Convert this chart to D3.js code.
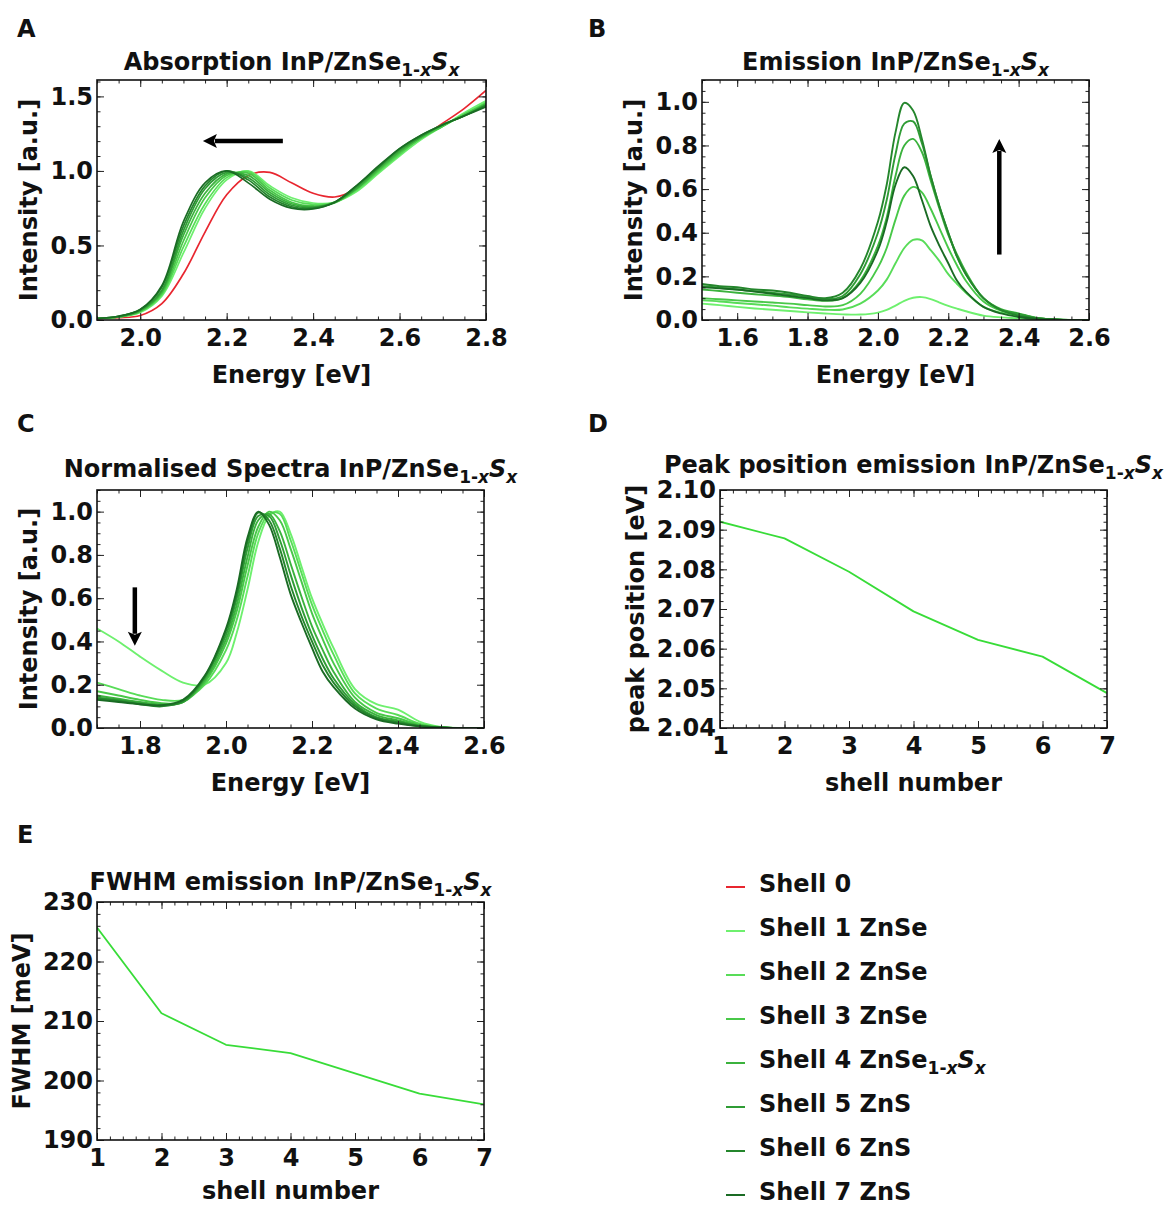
<!DOCTYPE html>
<html lang="en">
<head>
<meta charset="UTF-8" />
<title>InP/ZnSe1-xSx shell series</title>
<script src="https://d3js.org/d3.v7.min.js"></script>
<style>
  body { margin: 0; background: #fff; }
  svg text { font-family: "DejaVu Sans", Verdana, sans-serif; font-weight: bold; fill: #111; }
  .tick line { stroke: #222; }
</style>
</head>
<body>
<script>
// legend / series
const shellNames = ["Shell 0", "Shell 1 ZnSe", "Shell 2 ZnSe", "Shell 3 ZnSe", "Shell 4 ZnSe", "Shell 5 ZnS", "Shell 6 ZnS", "Shell 7 ZnS"];
const shellColors = ["#e8262f", "#6ef06e", "#58dc58", "#48c848", "#3bb23d", "#2f9c35", "#24862c", "#1a6b24"];

// A: absorption, energy grid (eV) and one array per shell
const absE = [1.90, 1.95, 2.00, 2.05, 2.10, 2.15, 2.20, 2.25, 2.30, 2.35, 2.40, 2.45, 2.50, 2.55, 2.60, 2.65, 2.70, 2.75, 2.80];
const abs0 = [0.01, 0.015, 0.03, 0.11, 0.31, 0.59, 0.84, 0.97, 0.99, 0.92, 0.85, 0.825, 0.88, 1.00, 1.13, 1.22, 1.32, 1.42, 1.54];
const abs1 = [0.01, 0.02, 0.05, 0.16, 0.45, 0.75, 0.94, 1.00, 0.90, 0.82, 0.785, 0.79, 0.86, 0.98, 1.10, 1.21, 1.30, 1.39, 1.47];
const abs2 = [0.01, 0.02, 0.055, 0.17, 0.49, 0.78, 0.955, 0.995, 0.885, 0.805, 0.775, 0.79, 0.87, 0.99, 1.11, 1.22, 1.30, 1.38, 1.46];
const abs3 = [0.01, 0.02, 0.06, 0.18, 0.53, 0.82, 0.97, 0.985, 0.87, 0.79, 0.765, 0.785, 0.88, 1.00, 1.12, 1.22, 1.30, 1.38, 1.45];
const abs4 = [0.01, 0.02, 0.06, 0.19, 0.57, 0.85, 0.98, 0.97, 0.855, 0.78, 0.76, 0.79, 0.88, 1.01, 1.13, 1.23, 1.31, 1.37, 1.45];
const abs5 = [0.01, 0.025, 0.065, 0.20, 0.60, 0.88, 0.99, 0.955, 0.84, 0.77, 0.755, 0.79, 0.89, 1.02, 1.14, 1.23, 1.31, 1.37, 1.44];
const abs6 = [0.01, 0.025, 0.07, 0.22, 0.63, 0.90, 1.00, 0.94, 0.825, 0.76, 0.75, 0.79, 0.90, 1.02, 1.15, 1.24, 1.31, 1.37, 1.44];
const abs7 = [0.01, 0.025, 0.07, 0.23, 0.66, 0.92, 1.00, 0.92, 0.81, 0.75, 0.745, 0.79, 0.90, 1.03, 1.15, 1.24, 1.31, 1.37, 1.43];

// B: emission (shells 1-7)
const emiE = [1.50, 1.55, 1.60, 1.65, 1.70, 1.75, 1.80, 1.85, 1.90, 1.95, 2.00, 2.025, 2.05, 2.075, 2.10, 2.125, 2.15, 2.175, 2.20, 2.225, 2.25, 2.30, 2.35, 2.40, 2.45, 2.50, 2.55, 2.60];
const emi1 = [0.075, 0.068, 0.06, 0.053, 0.047, 0.041, 0.035, 0.03, 0.026, 0.025, 0.034, 0.046, 0.066, 0.088, 0.102, 0.105, 0.096, 0.08, 0.065, 0.052, 0.04, 0.02, 0.012, 0.008, 0.003, 0.001, 0, 0];
const emi2 = [0.09, 0.085, 0.078, 0.072, 0.066, 0.058, 0.052, 0.047, 0.048, 0.075, 0.135, 0.185, 0.26, 0.33, 0.367, 0.365, 0.32, 0.27, 0.21, 0.165, 0.125, 0.06, 0.033, 0.022, 0.007, 0.002, 0, 0];
const emi3 = [0.10, 0.095, 0.09, 0.085, 0.08, 0.075, 0.068, 0.062, 0.068, 0.12, 0.24, 0.33, 0.46, 0.57, 0.61, 0.585, 0.51, 0.42, 0.33, 0.25, 0.18, 0.085, 0.043, 0.027, 0.009, 0.002, 0, 0];
const emi4 = [0.14, 0.133, 0.125, 0.118, 0.112, 0.105, 0.095, 0.088, 0.10, 0.18, 0.34, 0.47, 0.66, 0.80, 0.83, 0.77, 0.64, 0.51, 0.39, 0.30, 0.22, 0.10, 0.05, 0.03, 0.01, 0.003, 0, 0];
const emi5 = [0.155, 0.148, 0.14, 0.132, 0.125, 0.117, 0.105, 0.095, 0.11, 0.21, 0.40, 0.55, 0.76, 0.90, 0.91, 0.81, 0.66, 0.52, 0.40, 0.29, 0.21, 0.10, 0.046, 0.028, 0.009, 0.003, 0, 0];
const emi6 = [0.165, 0.155, 0.15, 0.14, 0.135, 0.125, 0.11, 0.10, 0.125, 0.235, 0.45, 0.62, 0.86, 0.995, 0.96, 0.83, 0.66, 0.52, 0.40, 0.29, 0.21, 0.10, 0.045, 0.02, 0.008, 0.003, 0, 0];
const emi7 = [0.15, 0.145, 0.14, 0.13, 0.12, 0.11, 0.10, 0.09, 0.10, 0.17, 0.32, 0.45, 0.62, 0.70, 0.66, 0.55, 0.43, 0.34, 0.26, 0.18, 0.13, 0.06, 0.03, 0.014, 0.005, 0.002, 0, 0];

// C: normalised emission (shells 1-7)
const normE = [1.70, 1.75, 1.80, 1.85, 1.90, 1.95, 2.00, 2.025, 2.05, 2.075, 2.10, 2.125, 2.15, 2.175, 2.20, 2.225, 2.25, 2.30, 2.35, 2.40, 2.45, 2.50, 2.55, 2.60];
const norm1 = [0.46, 0.40, 0.33, 0.265, 0.21, 0.20, 0.30, 0.44, 0.64, 0.86, 0.98, 1.00, 0.90, 0.75, 0.60, 0.48, 0.37, 0.18, 0.11, 0.085, 0.03, 0.005, 0, 0];
const norm2 = [0.21, 0.18, 0.15, 0.13, 0.13, 0.20, 0.36, 0.50, 0.70, 0.90, 0.99, 0.99, 0.87, 0.72, 0.57, 0.45, 0.34, 0.16, 0.09, 0.06, 0.02, 0.004, 0, 0];
const norm3 = [0.17, 0.15, 0.13, 0.115, 0.12, 0.21, 0.39, 0.54, 0.75, 0.93, 1.00, 0.96, 0.83, 0.68, 0.53, 0.41, 0.30, 0.14, 0.07, 0.045, 0.015, 0.003, 0, 0];
const norm4 = [0.15, 0.135, 0.12, 0.11, 0.12, 0.22, 0.41, 0.57, 0.79, 0.96, 0.99, 0.91, 0.76, 0.61, 0.47, 0.36, 0.26, 0.12, 0.06, 0.035, 0.012, 0.003, 0, 0];
const norm5 = [0.14, 0.13, 0.115, 0.105, 0.12, 0.23, 0.43, 0.60, 0.83, 0.98, 0.98, 0.87, 0.71, 0.56, 0.43, 0.32, 0.23, 0.11, 0.05, 0.03, 0.01, 0.003, 0, 0];
const norm6 = [0.135, 0.125, 0.11, 0.10, 0.125, 0.235, 0.45, 0.62, 0.86, 0.995, 0.96, 0.83, 0.66, 0.52, 0.40, 0.29, 0.21, 0.10, 0.045, 0.025, 0.008, 0.003, 0, 0];
const norm7 = [0.13, 0.12, 0.11, 0.105, 0.13, 0.24, 0.46, 0.64, 0.88, 1.00, 0.94, 0.79, 0.62, 0.49, 0.37, 0.26, 0.19, 0.09, 0.04, 0.02, 0.008, 0.003, 0, 0];

// D, E: per-shell summary
const shellNo = [1, 2, 3, 4, 5, 6, 7];
const peakPos = [2.092, 2.0878, 2.0794, 2.0694, 2.0622, 2.058, 2.0488];
const fwhm = [225.7, 211.3, 206.0, 204.6, 201.2, 197.8, 196.0];

// arrows, in data units
const arrowA = [[2.33, 1.2], [2.145, 1.2]];
const arrowB = [[2.345, 0.30], [2.345, 0.83]];
const arrowC = [[1.788, 0.65], [1.788, 0.38]];

const subSx = [{ t: "1-", sub: 1 }, { t: "x", sub: 1, it: 1 }, { t: "S", it: 1 }, { t: "x", sub: 1, it: 1 }];

const FS = 24;
const svg = d3.select("body").append("svg").attr("width", 1174).attr("height", 1205);
const defs = svg.append("defs");
let clipId = 0;

function richText(sel, parts) {
    let shift = 0;
    parts.forEach((p) => {
        const ts = sel.append("tspan").text(p.t);
        const target = p.sub ? 6 : 0;
        if (target !== shift) {
            ts.attr("dy", target - shift);
            shift = target;
        }
        if (p.sub) ts.attr("font-size", "17px");
        if (p.it) ts.attr("font-style", "italic");
    });
}

function panel(o) {
    const x = d3.scaleLinear().domain(o.xDom).range([o.left, o.right]);
    const y = d3.scaleLinear().domain(o.yDom).range([o.bottom, o.top]);
    const g = svg.append("g");

    const id = "clip" + clipId++;
    defs.append("clipPath").attr("id", id)
        .append("rect")
        .attr("x", o.left).attr("y", o.top)
        .attr("width", o.right - o.left).attr("height", o.bottom - o.top);
    const plot = g.append("g").attr("clip-path", `url(#${id})`);

    // ticks on all four sides, pointing inward
    const sides = [
        [d3.axisBottom(x), `translate(0,${o.bottom})`, o.xMajor, o.xMinor, o.xFmt],
        [d3.axisTop(x), `translate(0,${o.top})`, o.xMajor, o.xMinor, null],
        [d3.axisLeft(y), `translate(${o.left},0)`, o.yMajor, o.yMinor, o.yFmt],
        [d3.axisRight(y), `translate(${o.right},0)`, o.yMajor, o.yMinor, null],
    ];
    sides.forEach(([ax, tr, major, minor, fmt], i) => {
        const gMinor = g.append("g").attr("transform", tr)
            .call(ax.tickValues(minor).tickSize(-3.5).tickFormat(""));
        gMinor.select(".domain").remove();
        const gMajor = g.append("g").attr("transform", tr)
            .call(ax.tickValues(major).tickSize(-7)
                .tickPadding(i === 0 ? 9 : 4)
                .tickFormat(fmt ? d3.format(fmt) : ""));
        gMajor.select(".domain").remove();
        gMajor.selectAll("text").attr("font-size", FS + "px").attr("font-family", null);
    });

    g.append("rect")
        .attr("x", o.left).attr("y", o.top)
        .attr("width", o.right - o.left).attr("height", o.bottom - o.top)
        .attr("fill", "none").attr("stroke", "#111").attr("stroke-width", 1.6);

    // panel letter
    g.append("text").attr("x", o.letterX).attr("y", o.letterY)
        .attr("font-size", FS + "px").text(o.letter);

    // title
    const t = g.append("text")
        .attr("x", (o.left + o.right) / 2)
        .attr("y", o.titleY)
        .attr("text-anchor", "middle")
        .attr("font-size", FS + "px");
    richText(t, [{ t: o.title }].concat(subSx));

    // axis labels
    g.append("text")
        .attr("x", (o.left + o.right) / 2).attr("y", o.bottom + (o.xLabelDy || 63))
        .attr("text-anchor", "middle").attr("font-size", FS + "px")
        .text(o.xLabel);
    g.append("text")
        .attr("transform", `translate(${o.yLabelX},${(o.top + o.bottom) / 2}) rotate(-90)`)
        .attr("text-anchor", "middle").attr("dy", "0.36em")
        .attr("font-size", FS + "px")
        .text(o.yLabel);

    return { x, y, plot, g };
}

function drawSeries(p, xs, ys, color, curve, width) {
    const line = d3.line()
        .x((d) => p.x(d[0]))
        .y((d) => p.y(d[1]))
        .curve(curve);
    p.plot.append("path")
        .datum(xs.map((v, i) => [v, ys[i]]))
        .attr("d", line)
        .attr("fill", "none")
        .attr("stroke", color)
        .attr("stroke-width", width || 1.7)
        .attr("stroke-linejoin", "round");
}

function drawArrow(p, a) {
    const x1 = p.x(a[0][0]), y1 = p.y(a[0][1]);
    const x2 = p.x(a[1][0]), y2 = p.y(a[1][1]);
    const len = Math.hypot(x2 - x1, y2 - y1);
    const ux = (x2 - x1) / len, uy = (y2 - y1) / len;
    const head = 14, half = 7;
    const bx = x2 - ux * head, by = y2 - uy * head;
    p.g.append("line")
        .attr("x1", x1).attr("y1", y1).attr("x2", bx + ux * 2).attr("y2", by + uy * 2)
        .attr("stroke", "#000").attr("stroke-width", 4.5);
    p.g.append("path")
        .attr("d", `M${x2},${y2} L${bx - uy * half},${by + ux * half} L${bx + ux * 3},${by + uy * 3} L${bx + uy * half},${by - ux * half} Z`)
        .attr("fill", "#000");
}

const smooth = d3.curveCatmullRom.alpha(0.5);

// ---- A: absorption
const pA = panel({
    left: 97, right: 486, top: 80, bottom: 320,
    xDom: [1.9, 2.8], yDom: [0, 1.61],
    xMajor: [2.0, 2.2, 2.4, 2.6, 2.8], xMinor: d3.range(1.9, 2.801, 0.05),
    yMajor: [0, 0.5, 1.0, 1.5], yMinor: d3.range(0, 1.61, 0.1),
    xFmt: ".1f", yFmt: ".1f",
    letter: "A", letterX: 17, letterY: 37,
    title: "Absorption InP/ZnSe", titleY: 70,
    xLabel: "Energy [eV]", yLabel: "Intensity [a.u.]", yLabelX: 28,
});
[abs0, abs1, abs2, abs3, abs4, abs5, abs6, abs7].forEach((s, i) =>
    drawSeries(pA, absE, s, shellColors[i], smooth));
drawArrow(pA, arrowA);

// ---- B: emission
const pB = panel({
    left: 702, right: 1089, top: 80, bottom: 320,
    xDom: [1.5, 2.6], yDom: [0, 1.1],
    xMajor: [1.6, 1.8, 2.0, 2.2, 2.4, 2.6], xMinor: d3.range(1.5, 2.601, 0.05),
    yMajor: [0, 0.2, 0.4, 0.6, 0.8, 1.0], yMinor: d3.range(0, 1.101, 0.05),
    xFmt: ".1f", yFmt: ".1f",
    letter: "B", letterX: 588, letterY: 37,
    title: "Emission InP/ZnSe", titleY: 70,
    xLabel: "Energy [eV]", yLabel: "Intensity [a.u.]", yLabelX: 633,
});
[emi1, emi2, emi3, emi4, emi5, emi6, emi7].forEach((s, i) =>
    drawSeries(pB, emiE, s, shellColors[i + 1], smooth, 1.9));
drawArrow(pB, arrowB);

// ---- C: normalised spectra
const pC = panel({
    left: 97, right: 484, top: 490, bottom: 728,
    xDom: [1.7, 2.6], yDom: [0, 1.1],
    xMajor: [1.8, 2.0, 2.2, 2.4, 2.6], xMinor: d3.range(1.7, 2.601, 0.05),
    yMajor: [0, 0.2, 0.4, 0.6, 0.8, 1.0], yMinor: d3.range(0, 1.101, 0.05),
    xFmt: ".1f", yFmt: ".1f",
    letter: "C", letterX: 17, letterY: 432,
    title: "Normalised Spectra InP/ZnSe", titleY: 477,
    xLabel: "Energy [eV]", yLabel: "Intensity [a.u.]", yLabelX: 28,
});
[norm1, norm2, norm3, norm4, norm5, norm6, norm7].forEach((s, i) =>
    drawSeries(pC, normE, s, shellColors[i + 1], smooth, 1.9));
drawArrow(pC, arrowC);

// ---- D: peak position
const pD = panel({
    left: 720, right: 1107, top: 490, bottom: 728,
    xDom: [1, 7], yDom: [2.04, 2.10],
    xMajor: shellNo, xMinor: d3.range(1, 7.001, 0.2),
    yMajor: [2.04, 2.05, 2.06, 2.07, 2.08, 2.09, 2.10], yMinor: d3.range(2.04, 2.1001, 0.002),
    xFmt: "d", yFmt: ".2f",
    letter: "D", letterX: 588, letterY: 432,
    title: "Peak position emission InP/ZnSe", titleY: 473,
    xLabel: "shell number", yLabel: "peak position [eV]", yLabelX: 635,
});
drawSeries(pD, shellNo, peakPos, "#38dc38", d3.curveLinear, 1.8);

// ---- E: FWHM
const pE = panel({
    left: 97, right: 484, top: 902, bottom: 1140,
    xDom: [1, 7], yDom: [190, 230],
    xMajor: shellNo, xMinor: d3.range(1, 7.001, 0.2),
    yMajor: [190, 200, 210, 220, 230], yMinor: d3.range(190, 230.01, 2),
    xFmt: "d", yFmt: "d",
    letter: "E", letterX: 17, letterY: 843,
    title: "FWHM emission InP/ZnSe", titleY: 890,
    xLabel: "shell number", xLabelDy: 59, yLabel: "FWHM [meV]", yLabelX: 21,
});
drawSeries(pE, shellNo, fwhm, "#38dc38", d3.curveLinear, 1.8);

// ---- legend
const legend = svg.append("g").attr("transform", "translate(726,884)");
shellNames.forEach((name, i) => {
    const row = legend.append("g").attr("transform", `translate(0,${i * 44})`);
    row.append("line")
        .attr("x1", 0).attr("x2", 19).attr("y1", 3).attr("y2", 3)
        .attr("stroke", shellColors[i]).attr("stroke-width", 2);
    const t = row.append("text").attr("x", 33).attr("y", 8).attr("font-size", FS + "px");
    richText(t, i === 4 ? [{ t: name }].concat(subSx) : [{ t: name }]);
});
</script>
</body>
</html>
